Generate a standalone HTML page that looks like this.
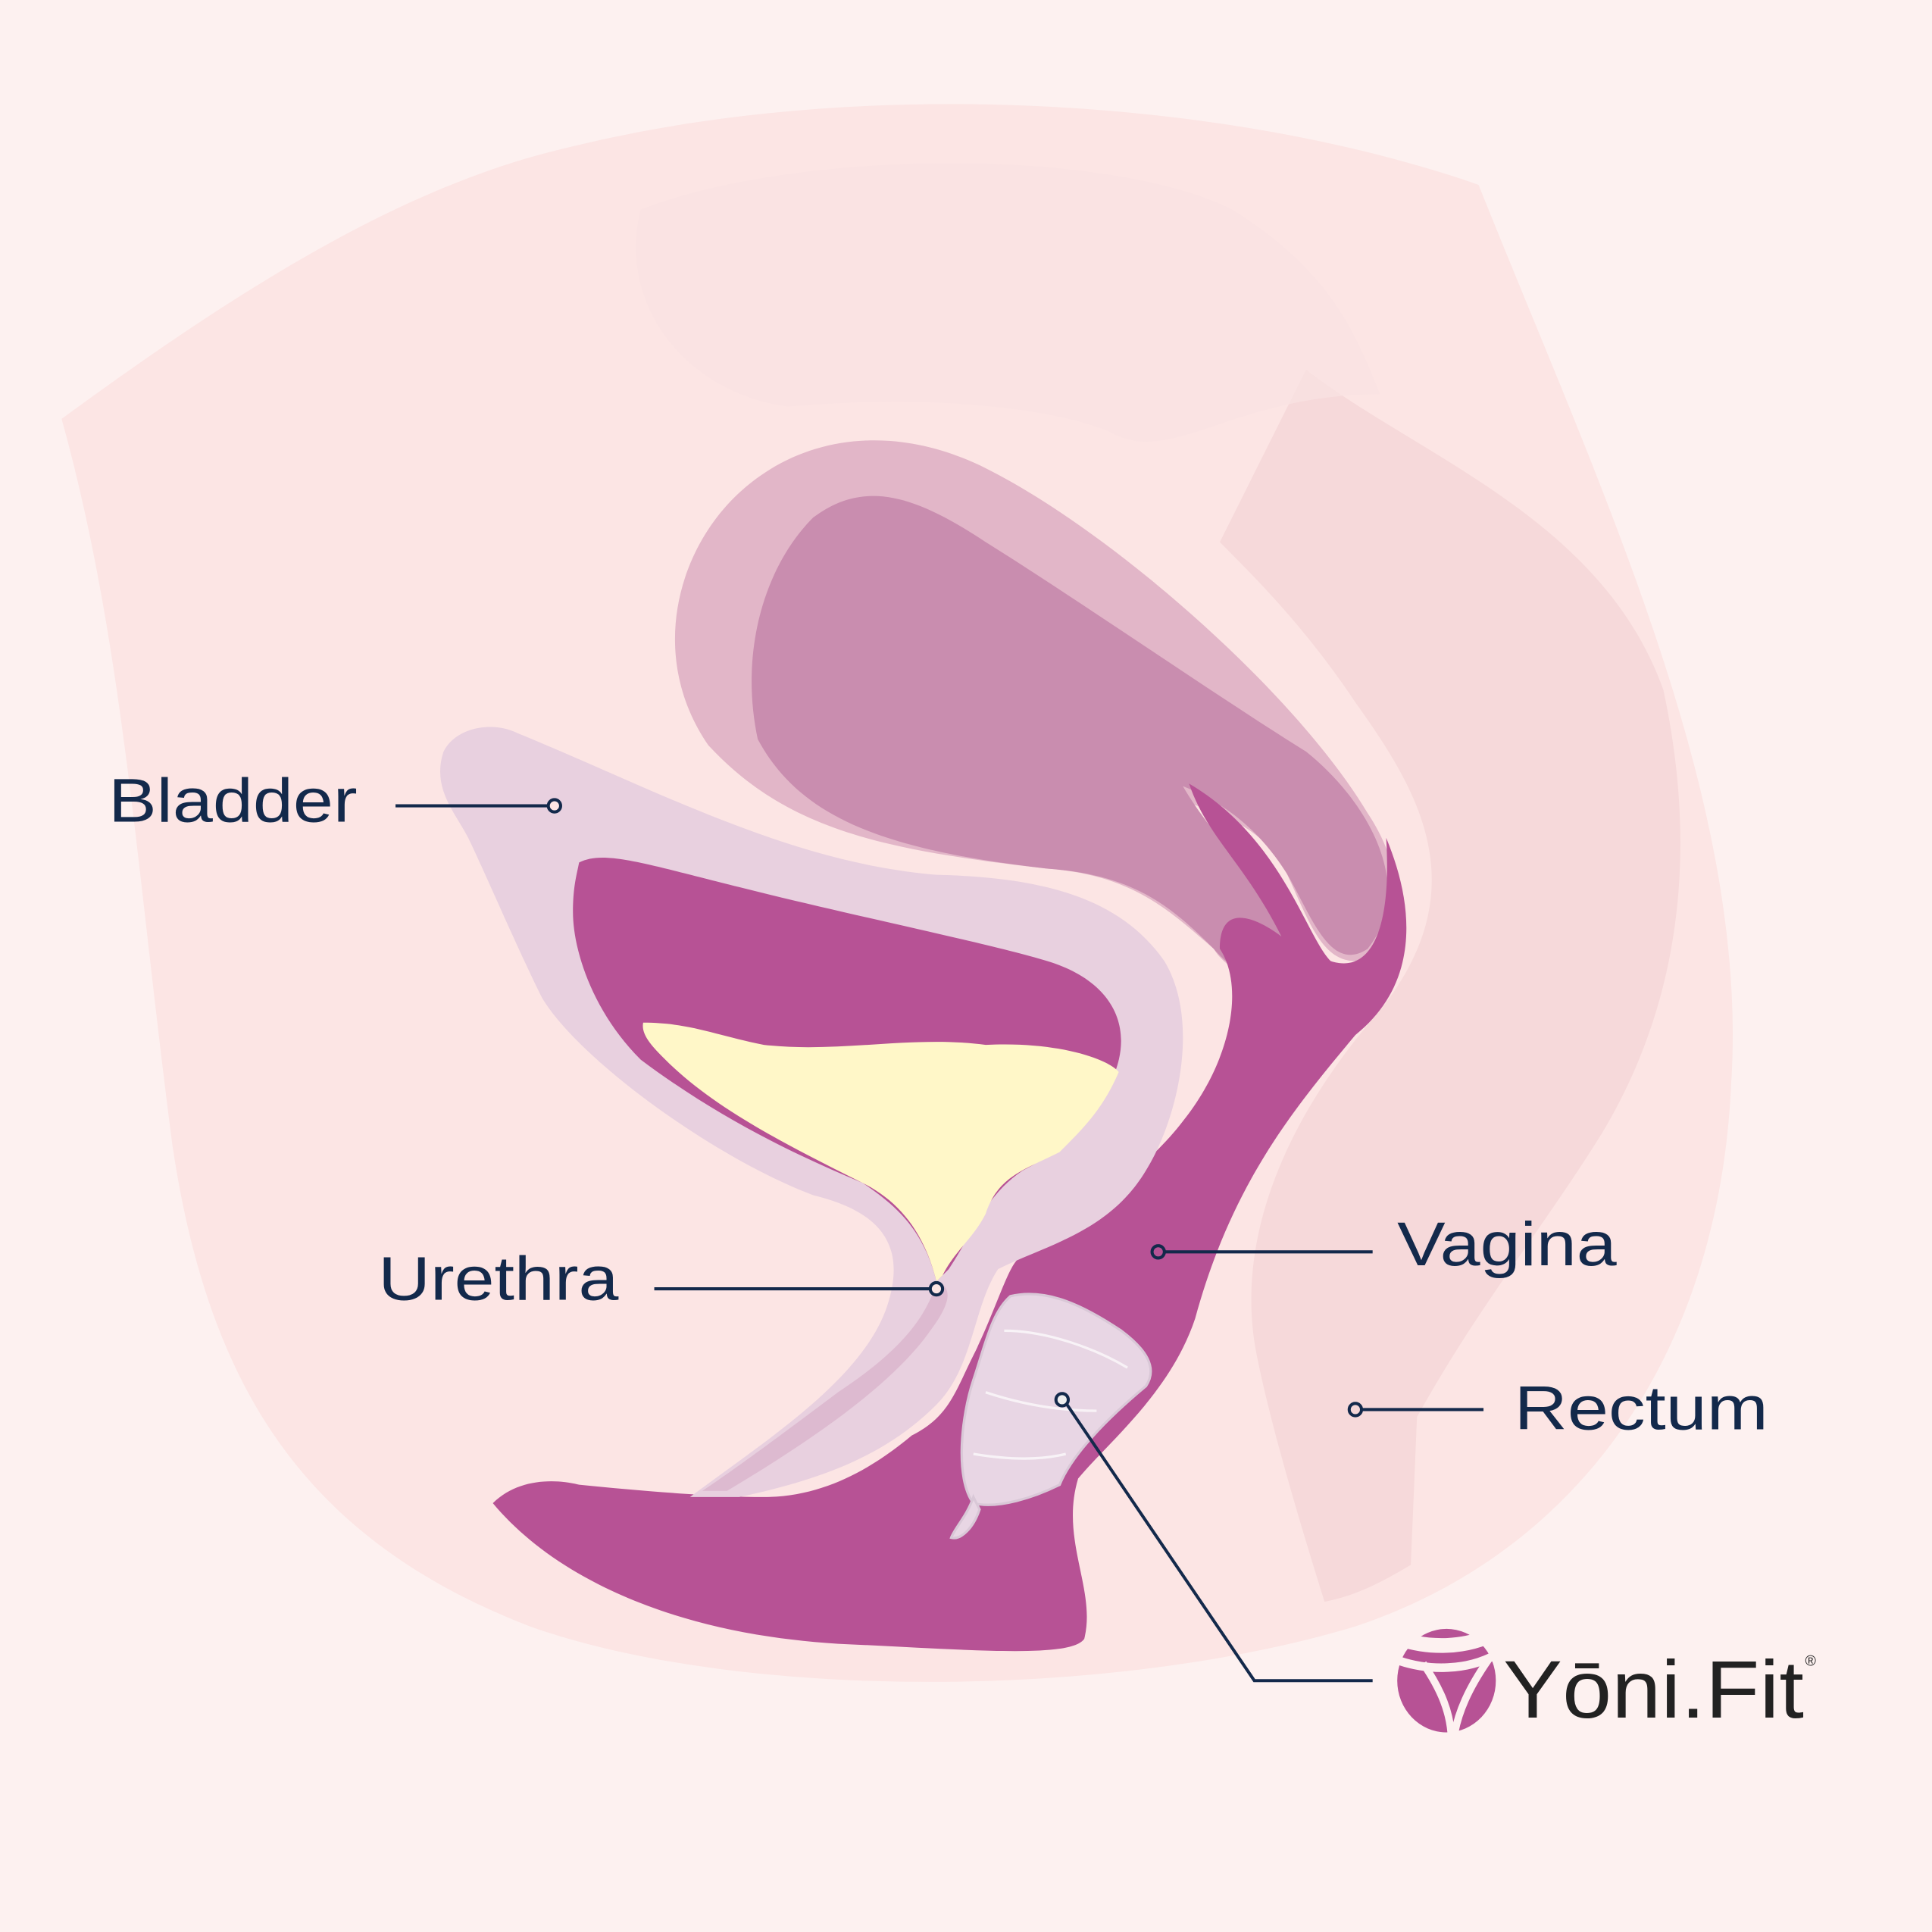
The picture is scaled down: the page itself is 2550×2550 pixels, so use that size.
<!DOCTYPE html>
<html><head><meta charset="utf-8"><style>
html,body{margin:0;padding:0;background:#fdf1f0}
svg{display:block}
</style></head><body>
<svg width="2550" height="2550" viewBox="0 0 1568 1568" xmlns="http://www.w3.org/2000/svg">
<rect width="1568" height="1568" fill="#fdf1f0"/>
<!-- body -->
<path d="M50,340 C200,230 330,150 460,120 C700,60 1000,80 1200,150 C1300,400 1420,650 1405,880 C1395,1100 1280,1260 1100,1320 C900,1380 600,1380 430,1320 C250,1250 170,1130 140,930 C110,700 100,520 50,340 Z" fill="#fce5e4"/>
<path d="M1060,300 C1150,370 1300,420 1350,560 C1380,700 1360,820 1300,920 C1250,1000 1200,1060 1150,1150 L1145,1270 C1120,1285 1100,1295 1075,1300 C1050,1220 1030,1150 1020,1100 C1000,1000 1050,900 1120,820 C1200,720 1150,640 1100,570 C1060,510 1020,470 990,440 C1010,400 1040,340 1060,300 Z" fill="#f4d6d7" opacity="0.8"/>
<path d="M520,170 C650,120 900,120 1000,170 C1080,220 1100,270 1120,320 C1000,320 950,380 900,350 C850,330 750,320 640,330 C560,320 500,250 520,170Z" fill="#f9e3e2" opacity="0.7"/>
<!-- uterus -->
<path d="M575,605 C530,540 545,460 590,410 C640,355 720,340 800,380 C900,430 1050,560 1110,660 C1150,720 1135,780 1100,780 C1070,780 1060,740 1040,700 C1020,670 990,660 960,650 C1000,700 1050,740 1050,780 C1050,810 1000,795 985,770 C950,740 920,710 850,705 C720,690 640,675 575,605Z" fill="#e2b6c8"/>
<path d="M615,600 C600,530 620,460 660,420 C700,390 740,400 800,440 C880,490 980,560 1060,610 C1110,650 1150,720 1110,770 C1080,790 1065,745 1045,710 C1020,670 990,650 960,638 C990,690 1050,740 1050,780 C1050,805 1010,800 985,770 C950,735 920,710 850,705 C720,690 650,665 615,600Z" fill="#c98daf"/>
<!-- vagina -->
<path d="M965,636 C1040,680 1060,760 1080,780 C1110,790 1130,760 1125,680 C1150,740 1150,800 1100,840 C1050,900 1000,960 970,1070 C950,1130 900,1170 875,1200 C860,1250 890,1290 880,1330 C870,1345 800,1340 700,1335 C550,1330 450,1280 400,1220 C420,1200 450,1200 470,1205 C520,1210 580,1215 620,1215 C670,1215 710,1190 740,1165 C770,1150 775,1130 790,1100 C810,1060 820,1020 830,1020 C860,1000 930,950 960,910 C1000,860 1010,800 990,770 C990,720 1040,760 1040,760 C1010,700 980,680 965,636Z" fill="#b75295"/>
<!-- bladder -->
<path d="M360,610 C370,590 400,585 420,595 C530,640 640,700 760,710 C850,712 910,730 945,780 C975,830 955,910 930,950 C900,1000 850,1010 810,1030 C790,1060 790,1110 760,1140 C720,1180 670,1200 600,1215 L560,1215 C620,1170 700,1120 720,1060 C740,1000 700,980 660,970 C580,940 470,860 440,810 C420,770 390,700 380,680 C370,660 350,640 360,610Z" fill="#e8d0df"/>
<path d="M470,700 C490,690 520,700 600,720 C700,745 800,765 850,780 C900,795 920,830 905,870 C890,910 860,935 830,950 C800,970 790,1000 770,1030 L760,1040 C750,1000 730,980 700,960 C640,935 580,905 520,860 C480,820 465,770 465,740 C465,720 468,710 470,700Z" fill="#b75295"/>
<path d="M522,830 C560,830 580,840 620,848 C680,855 740,840 800,848 C860,845 900,860 908,870 C895,900 880,915 860,935 C830,950 810,955 800,985 C790,1005 775,1015 765,1035 L760,1040 C750,1000 730,975 700,960 C640,930 580,900 540,860 C530,850 520,840 522,830Z" fill="#fff7c8"/>
<path d="M760,1040 C750,1080 710,1110 680,1130 C640,1160 600,1190 570,1210 L590,1210 C640,1180 720,1130 755,1080 C770,1060 775,1045 760,1040Z" fill="#d9b0c9" opacity="0.7"/>
<!-- cup -->
<g fill="#f1eef2" stroke="#e0dde3" stroke-width="2" opacity="0.85">
<path d="M820,1052 C850,1045 880,1060 910,1080 C930,1095 940,1110 930,1125 C900,1150 870,1180 860,1205 C840,1215 810,1225 790,1220 C775,1200 780,1150 790,1120 C800,1090 805,1065 820,1052Z"/>
<path d="M790,1215 C785,1230 775,1240 772,1248 C780,1250 790,1240 795,1225Z"/>
</g>
<g stroke="#ffffff" stroke-width="2" fill="none" opacity="0.7">
<path d="M815,1080 C850,1080 890,1095 915,1110"/>
<path d="M800,1130 C830,1140 860,1145 890,1145"/>
<path d="M790,1180 C820,1185 845,1185 865,1180"/>
</g>
<!-- connectors -->
<g stroke="#13294b" stroke-width="2.5" fill="none">
<line x1="321" y1="654" x2="446" y2="654"/>
<circle cx="450" cy="654" r="5" fill="#fce5e4"/>
<line x1="531" y1="1046" x2="755" y2="1046"/>
<circle cx="760" cy="1046" r="5" fill="#fce5e4"/>
<line x1="945" y1="1016" x2="1114" y2="1016"/>
<circle cx="940" cy="1016" r="5" fill="#b75295"/>
<line x1="1105" y1="1144" x2="1204" y2="1144"/>
<circle cx="1100" cy="1144" r="5" fill="#f4d6d7"/>
<polyline points="866,1140 1018,1364 1114,1364"/>
<circle cx="862" cy="1136" r="5" fill="#eeeeee"/>
</g>
<g font-family="'Liberation Sans',sans-serif" font-size="50" fill="#13294b" lengthAdjust="spacingAndGlyphs">
<text x="88" y="667" textLength="202" lengthAdjust="spacingAndGlyphs">Bladder</text>
<text x="307" y="1055" textLength="195" lengthAdjust="spacingAndGlyphs">Urethra</text>
<text x="1134" y="1027" textLength="178" lengthAdjust="spacingAndGlyphs">Vagina</text>
<text x="1229" y="1160" textLength="206" lengthAdjust="spacingAndGlyphs">Rectum</text>
</g>
<!-- logo -->
<g>
<ellipse cx="1174" cy="1364" rx="40" ry="42" fill="#b75295"/>
<path d="M1136,1348 C1160,1356 1190,1356 1214,1343" stroke="#fdf1f0" stroke-width="7" fill="none"/>
<path d="M1136,1330 C1160,1338 1190,1338 1214,1325" stroke="#fdf1f0" stroke-width="12" fill="none"/>
<path d="M1155,1350 C1170,1372 1177,1390 1178,1410" stroke="#fdf1f0" stroke-width="6" fill="none"/>
<path d="M1208,1347 C1192,1370 1183,1390 1180,1410" stroke="#fdf1f0" stroke-width="6" fill="none"/>
<text x="1220" y="1394" font-family="'Liberation Sans',sans-serif" font-size="66" fill="#222" textLength="244" lengthAdjust="spacingAndGlyphs">Yōni.Fit</text>
<text x="1465" y="1352" font-family="'Liberation Sans',sans-serif" font-size="12" fill="#222">®</text>
</g>
</svg>
</body></html>
